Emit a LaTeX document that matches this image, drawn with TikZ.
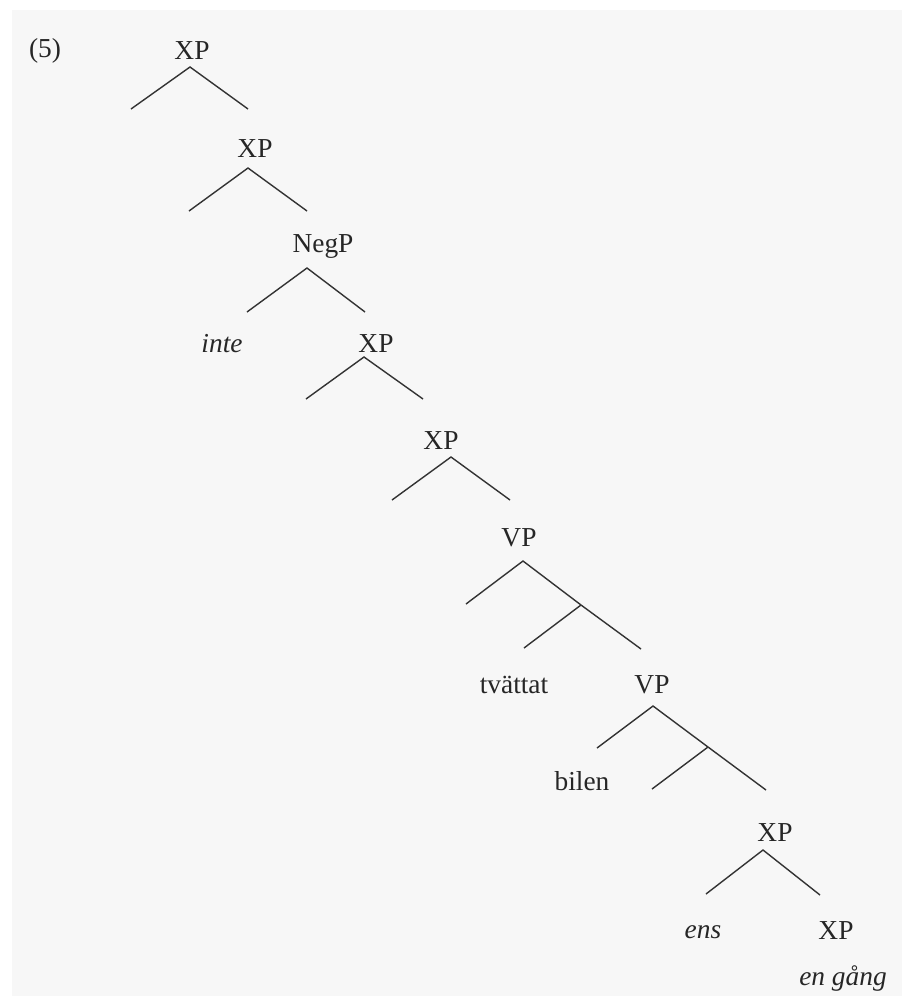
\documentclass[tikz,border=0pt]{standalone}
\usepackage{fontspec}
\setmainfont{Liberation Serif}
\begin{document}
\begin{tikzpicture}[
  x=0.5pt, y=-0.5pt,
  every node/.style={inner sep=0pt,anchor=base,text=black!85,font=\fontsize{13.7}{16}\selectfont},
  word/.style={font=\fontsize{13.7}{16}\selectfont\itshape},
  branch/.style={draw=black!80,line width=0.7pt}
]
  % page
  \fill[white] (0,0) rectangle (902,996);
  \fill[black!3] (12,10) rectangle (902,996);
  \useasboundingbox (0,0) rectangle (902,996);

  % labels
  \node (ex)   at (45,57)   {(5)};
  \node (xp1)  at (192,59)  {XP};
  \node (xp2)  at (255,157) {XP};
  \node (negp) at (323,252) {NegP};
  \node[word] (inte) at (222,352) {inte};
  \node (xp3)  at (376,352) {XP};
  \node (xp4)  at (441,449) {XP};
  \node (vp1)  at (519,546) {VP};
  \node (tv)   at (514,693) {tvättat};
  \node (vp2)  at (652,693) {VP};
  \node (bil)  at (582,790) {bilen};
  \node (xp5)  at (775,841) {XP};
  \node[word] (ens) at (703,938) {ens};
  \node (xp6)  at (836,939) {XP};
  \node[word] (eng) at (843,985) {en gång};

  % branch points
  \coordinate (xp1a) at (190,67);
  \coordinate (xp1l) at (131,109);
  \coordinate (xp1r) at (248,109);
  \coordinate (xp2a) at (248,168);
  \coordinate (xp2l) at (189,211);
  \coordinate (xp2r) at (307,211);
  \coordinate (negpa) at (307,268);
  \coordinate (negpl) at (247,312);
  \coordinate (negpr) at (365,312);
  \coordinate (xp3a) at (364,357);
  \coordinate (xp3l) at (306,399);
  \coordinate (xp3r) at (423,399);
  \coordinate (xp4a) at (451,457);
  \coordinate (xp4l) at (392,500);
  \coordinate (xp4r) at (510,500);
  \coordinate (vp1a) at (523,561);
  \coordinate (vp1l) at (466,604);
  \coordinate (vp1m) at (581,605);
  \coordinate (vp1ml) at (524,648);
  \coordinate (vp1r) at (641,649);
  \coordinate (vp2a) at (653,706);
  \coordinate (vp2l) at (597,748);
  \coordinate (vp2m) at (708,747);
  \coordinate (vp2ml) at (652,789);
  \coordinate (vp2r) at (766,790);
  \coordinate (xp5a) at (763,850);
  \coordinate (xp5l) at (706,894);
  \coordinate (xp5r) at (820,895);

  \draw[branch] (xp1l)--(xp1a)--(xp1r);
  \draw[branch] (xp2l)--(xp2a)--(xp2r);
  \draw[branch] (negpl)--(negpa)--(negpr);
  \draw[branch] (xp3l)--(xp3a)--(xp3r);
  \draw[branch] (xp4l)--(xp4a)--(xp4r);
  \draw[branch] (vp1l)--(vp1a)--(vp1m)--(vp1r);
  \draw[branch] (vp1m)--(vp1ml);
  \draw[branch] (vp2l)--(vp2a)--(vp2m)--(vp2r);
  \draw[branch] (vp2m)--(vp2ml);
  \draw[branch] (xp5l)--(xp5a)--(xp5r);
\end{tikzpicture}
\end{document}
